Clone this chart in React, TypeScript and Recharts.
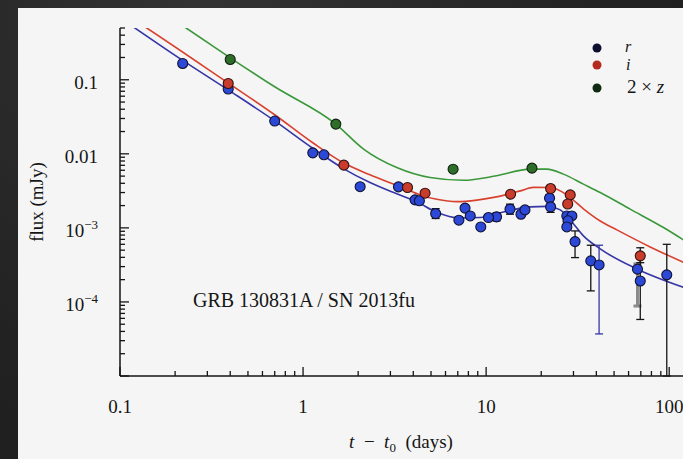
import React from 'react';
import { ComposedChart, XAxis, YAxis, Line, Scatter, ErrorBar } from 'recharts';

// ---------- axis ticks ----------
const xTicks = [0.1, 0.2, 0.3, 0.4, 0.5, 0.6, 0.7, 0.8, 0.9, 1, 2, 3, 4, 5, 6, 7, 8, 9, 10, 20, 30, 40, 50, 60, 70, 80, 90, 100];
const xMajor = [0.1, 1, 10, 100];
const xTickLabels = ['0.1', '1', '10', '100'];

const yTicks = [
  1e-5, 2e-5, 3e-5, 4e-5, 5e-5, 6e-5, 7e-5, 8e-5, 9e-5,
  1e-4, 2e-4, 3e-4, 4e-4, 5e-4, 6e-4, 7e-4, 8e-4, 9e-4,
  1e-3, 2e-3, 3e-3, 4e-3, 5e-3, 6e-3, 7e-3, 8e-3, 9e-3,
  0.01, 0.02, 0.03, 0.04, 0.05, 0.06, 0.07, 0.08, 0.09,
  0.1, 0.2, 0.3, 0.4, 0.5,
];
const yMajor = [1e-5, 1e-4, 1e-3, 0.01, 0.1];
const yTickLabels = ['', '10^−4', '10^−3', '0.01', '0.1'];

// ---------- r band (blue) ----------
const rPlain = [
  { t: 0.22, f: 0.166 }, { t: 0.39, f: 0.075 }, { t: 0.70, f: 0.0277 }, { t: 1.13, f: 0.0103 },
  { t: 1.30, f: 0.0097 }, { t: 2.05, f: 0.0036 }, { t: 3.32, f: 0.00358 }, { t: 4.09, f: 0.00239 },
  { t: 4.32, f: 0.00232 }, { t: 7.67, f: 0.00185 }, { t: 8.19, f: 0.00145 }, { t: 9.35, f: 0.00103 },
  { t: 10.3, f: 0.00138 }, { t: 15.5, f: 0.00153 }, { t: 16.3, f: 0.00175 }, { t: 27.6, f: 0.00145 },
  { t: 29.4, f: 0.00145 }, { t: 28.0, f: 0.00125 }, { t: 27.6, f: 0.00103 },
];
const rErrBlack = [
  { t: 5.3, f: 0.00156, err: [0.00022, 0.00026] },
  { t: 7.1, f: 0.00127, err: [0.00011, 0.00013] },
  { t: 11.4, f: 0.00141, err: [0.00017, 0.00019] },
  { t: 13.5, f: 0.00179, err: [0.00026, 0.0003] },
  { t: 22.2, f: 0.00252, err: [0.0002, 0.0003] },
  { t: 22.5, f: 0.00192, err: [0.0003, 0.0002] },
  { t: 30.6, f: 0.000653, err: [0.000256, 0.000257] },
  { t: 37.3, f: 0.000358, err: [0.000217, 0.000225] },
  { t: 69.5, f: 0.000192, err: [0.000134, 0.000258] },
  { t: 97, f: 0.000232, err: [0.000222, 0.000368] },
];
const rErrBlue = [{ t: 41.4, f: 0.000316, err: [0.000279, 0.000267] }];
const rErrGray = [{ t: 67.1, f: 0.000277, err: [0.000189, 0.00005] }];

// ---------- i band (red) ----------
const iPlain = [
  { t: 0.39, f: 0.089 }, { t: 1.67, f: 0.00703 }, { t: 3.72, f: 0.00351 }, { t: 4.64, f: 0.00294 },
  { t: 13.6, f: 0.00285 }, { t: 22.5, f: 0.0034 }, { t: 28.8, f: 0.00279 }, { t: 27.9, f: 0.0021 },
];
const iErr = [{ t: 69.5, f: 0.000419, err: [0.00008, 0.00012] }];

// ---------- 2 x z band (green) ----------
const zPoints = [
  { t: 0.40, f: 0.188 }, { t: 1.51, f: 0.0252 }, { t: 6.6, f: 0.0062 }, { t: 17.8, f: 0.00641 },
];

// ---------- model curves ----------
const rModel = [
  { t: 0.1, f: 0.688 }, { t: 0.221, f: 0.181 }, { t: 0.391, f: 0.0726 }, { t: 0.70, f: 0.0279 },
  { t: 1.13, f: 0.0119 }, { t: 1.67, f: 0.00627 }, { t: 2.32, f: 0.00409 }, { t: 3.25, f: 0.00288 },
  { t: 4.18, f: 0.00225 }, { t: 5.33, f: 0.00164 }, { t: 7.11, f: 0.00136 }, { t: 9.27, f: 0.00138 },
  { t: 12.4, f: 0.00164 }, { t: 17.4, f: 0.00192 }, { t: 21.5, f: 0.00195 }, { t: 25.4, f: 0.00175 },
  { t: 28.8, f: 0.00128 }, { t: 34.0, f: 0.00078 }, { t: 42.0, f: 0.00052 }, { t: 66.6, f: 0.000279 },
  { t: 122, f: 0.000155 },
];
const iModel = [
  { t: 0.1, f: 0.86 }, { t: 0.14, f: 0.5 }, { t: 0.391, f: 0.09 }, { t: 0.70, f: 0.0337 },
  { t: 1.13, f: 0.0141 }, { t: 1.67, f: 0.0075 }, { t: 2.32, f: 0.0052 }, { t: 3.53, f: 0.00347 },
  { t: 4.35, f: 0.00279 }, { t: 5.38, f: 0.00243 }, { t: 6.92, f: 0.00226 }, { t: 8.9, f: 0.00237 },
  { t: 11.4, f: 0.00262 }, { t: 15.4, f: 0.00316 }, { t: 18.1, f: 0.00352 }, { t: 22.5, f: 0.00351 },
  { t: 25.4, f: 0.00316 }, { t: 28.8, f: 0.00257 }, { t: 34.0, f: 0.00181 }, { t: 42.0, f: 0.00124 },
  { t: 51.8, f: 0.00094 }, { t: 78.7, f: 0.000553 }, { t: 122, f: 0.000336 },
];
const zModel = [
  { t: 0.1, f: 1.86 }, { t: 0.2296, f: 0.5 }, { t: 0.40, f: 0.198 }, { t: 0.70, f: 0.0804 },
  { t: 1.51, f: 0.0252 }, { t: 2.14, f: 0.0116 }, { t: 3.25, f: 0.00653 }, { t: 4.94, f: 0.00479 },
  { t: 7.52, f: 0.00439 }, { t: 11.4, f: 0.00505 }, { t: 17.4, f: 0.00621 }, { t: 21.5, f: 0.00621 },
  { t: 26.4, f: 0.00532 }, { t: 34.0, f: 0.0039 }, { t: 42.0, f: 0.003 }, { t: 61.2, f: 0.00179 },
  { t: 93.1, f: 0.00101 }, { t: 122, f: 0.000667 },
];

// ---------- styles ----------
const FONT = '"Liberation Serif", "Times New Roman", serif';
const INK = '#151515';
const BLUE_FILL = '#2b49d6';
const RED_FILL = '#c93c2c';
const GREEN_FILL = '#2f6d2b';
const BLUE_LINE = '#3636a6';
const RED_LINE = '#d9412f';
const GREEN_LINE = '#3a983a';

const isIn = (arr: number[], v: number) => arr.some((a) => Math.abs(a - v) / a < 1e-6);

const XTickBottom = (props: any) => {
  const { x, y, payload } = props;
  const v = payload.value;
  const major = isIn(xMajor, v);
  const idx = xMajor.findIndex((a) => Math.abs(a - v) / a < 1e-6);
  return (
    <g>
      <line x1={x} x2={x} y1={y} y2={y - (major ? 9 : 5)} stroke={INK} strokeWidth={1.3} />
      {major && (
        <text x={x} y={y + 37} textAnchor="middle" fontFamily={FONT} fontSize={19} fill={INK}>
          {xTickLabels[idx]}
        </text>
      )}
    </g>
  );
};

const XTickTop = (props: any) => {
  const { x, y, payload } = props;
  const major = isIn(xMajor, payload.value);
  return <line x1={x} x2={x} y1={y} y2={y + (major ? 9 : 5)} stroke={INK} strokeWidth={1.3} />;
};

const YTickLeft = (props: any) => {
  const { x, y, payload } = props;
  const v = payload.value;
  const major = isIn(yMajor, v);
  const idx = yMajor.findIndex((a) => Math.abs(a - v) / a < 1e-6);
  const label = idx >= 0 ? yTickLabels[idx] : '';
  let content: any = null;
  if (label) {
    if (label.includes('^')) {
      const [base, exp] = label.split('^');
      content = (
        <text x={x - 22} y={y + 9} textAnchor="end" fontFamily={FONT} fontSize={19} fill={INK}>
          {base}
          <tspan dy={-8} fontSize={13}>{exp}</tspan>
        </text>
      );
    } else {
      content = (
        <text x={x - 22} y={y + 9} textAnchor="end" fontFamily={FONT} fontSize={19} fill={INK}>
          {label}
        </text>
      );
    }
  }
  return (
    <g>
      <line x1={x} x2={x + (major ? 9 : 5)} y1={y} y2={y} stroke={INK} strokeWidth={1.3} />
      {content}
    </g>
  );
};

const YTickRight = (props: any) => {
  const { x, y, payload } = props;
  const major = isIn(yMajor, payload.value);
  return <line x1={x} x2={x - (major ? 9 : 5)} y1={y} y2={y} stroke={INK} strokeWidth={1.3} />;
};

const dot = (fill: string, stroke: string) => (p: any) => (
  <circle cx={p.cx} cy={p.cy} r={5} fill={fill} stroke={stroke} strokeWidth={1.1} />
);

export default function App() {
  return (
    <div
      style={{
        position: 'fixed', left: 0, top: 0, width: 683, height: 459, overflow: 'hidden',
        background: 'radial-gradient(ellipse at 30% 0%, #333 0%, #222 60%, #1c1c1c 100%)',
      }}
    >
      <div style={{ position: 'absolute', left: 18, top: 8, right: 0, bottom: 0, background: '#f5f5f5' }} />
      <div style={{ position: 'absolute', left: 0, top: 0 }}>
        <ComposedChart width={700} height={459} margin={{ top: 28, right: 15, bottom: 0, left: 0 }}>
          <XAxis
            xAxisId="b" type="number" dataKey="t" scale="log" domain={[0.1, 122]} allowDataOverflow
            ticks={xTicks} interval={0} tick={<XTickBottom />} tickLine={false} tickSize={0} tickMargin={0}
            axisLine={{ stroke: INK, strokeWidth: 1.5 }} height={83}
          />
          <XAxis
            xAxisId="top" orientation="top" type="number" dataKey="t" scale="log" domain={[0.1, 122]} allowDataOverflow
            ticks={xTicks} interval={0} tick={<XTickTop />} tickLine={false} tickSize={0} tickMargin={0}
            axisLine={{ stroke: INK, strokeWidth: 1.5 }} height={0}
          />
          <YAxis
            yAxisId="l" type="number" dataKey="f" scale="log" domain={[1e-5, 0.5]} allowDataOverflow
            ticks={yTicks} interval={0} tick={<YTickLeft />} tickLine={false} tickSize={0} tickMargin={0}
            axisLine={{ stroke: INK, strokeWidth: 1.5 }} width={120}
          />
          <YAxis
            yAxisId="rt" orientation="right" type="number" dataKey="f" scale="log" domain={[1e-5, 0.5]} allowDataOverflow
            ticks={yTicks} interval={0} tick={<YTickRight />} tickLine={false} tickSize={0} tickMargin={0}
            axisLine={{ stroke: INK, strokeWidth: 1.5 }} width={0}
          />

          <Line xAxisId="b" yAxisId="l" data={zModel} dataKey="f" type="monotone" stroke={GREEN_LINE} strokeWidth={1.6} dot={false} isAnimationActive={false} />
          <Line xAxisId="b" yAxisId="l" data={iModel} dataKey="f" type="monotone" stroke={RED_LINE} strokeWidth={1.6} dot={false} isAnimationActive={false} />
          <Line xAxisId="b" yAxisId="l" data={rModel} dataKey="f" type="monotone" stroke={BLUE_LINE} strokeWidth={1.6} dot={false} isAnimationActive={false} />

          <Scatter xAxisId="b" yAxisId="l" data={rErrGray} dataKey="f" shape={dot(BLUE_FILL, '#111133')} isAnimationActive={false}>
            <ErrorBar dataKey="err" direction="y" width={4} stroke="#8a8a8a" strokeWidth={3} />
          </Scatter>
          <Scatter xAxisId="b" yAxisId="l" data={rErrBlack} dataKey="f" shape={dot(BLUE_FILL, '#111133')} isAnimationActive={false}>
            <ErrorBar dataKey="err" direction="y" width={4} stroke={INK} strokeWidth={1.3} />
          </Scatter>
          <Scatter xAxisId="b" yAxisId="l" data={rErrBlue} dataKey="f" shape={dot(BLUE_FILL, '#111133')} isAnimationActive={false}>
            <ErrorBar dataKey="err" direction="y" width={4} stroke={BLUE_LINE} strokeWidth={1.3} />
          </Scatter>
          <Scatter xAxisId="b" yAxisId="l" data={iErr} dataKey="f" shape={dot(RED_FILL, '#331111')} isAnimationActive={false}>
            <ErrorBar dataKey="err" direction="y" width={4} stroke={INK} strokeWidth={1.3} />
          </Scatter>
          <Scatter xAxisId="b" yAxisId="l" data={rPlain} dataKey="f" shape={dot(BLUE_FILL, '#111133')} isAnimationActive={false} />
          <Scatter xAxisId="b" yAxisId="l" data={iPlain} dataKey="f" shape={dot(RED_FILL, '#331111')} isAnimationActive={false} />
          <Scatter xAxisId="b" yAxisId="l" data={zPoints} dataKey="f" shape={dot(GREEN_FILL, '#0d220d')} isAnimationActive={false} />
        </ComposedChart>
      </div>
      <svg width={683} height={459} style={{ position: 'absolute', left: 0, top: 0, pointerEvents: 'none' }}>
        <g fontFamily={FONT} fill={INK}>
          <text transform="translate(36,202) rotate(-90)" textAnchor="middle" dominantBaseline="central" fontSize={19}>
            flux (mJy)
          </text>
          <text x={401} y={448} textAnchor="middle" fontSize={19}>
            <tspan fontStyle="italic">t</tspan>
            {'\u2002\u2212\u2002'}
            <tspan fontStyle="italic">t</tspan>
            <tspan fontSize={13} dy={4}>0</tspan>
            <tspan dy={-4}>{'\u2002(days)'}</tspan>
          </text>
          <text x={193} y={307} fontSize={20} textLength={222} lengthAdjust="spacing">GRB 130831A / SN 2013fu</text>

          <circle cx={597} cy={48} r={4.5} fill="#0e0e30" />
          <circle cx={597} cy={65} r={4.5} fill="#b52a1e" />
          <circle cx={597} cy={88} r={4.5} fill="#0f2a10" />
          <text x={625} y={52} fontSize={16} fontStyle="italic">r</text>
          <text x={626} y={70} fontSize={16} fontStyle="italic">i</text>
          <text x={627} y={93} fontSize={19}>
            2 × <tspan fontStyle="italic">z</tspan>
          </text>
        </g>
      </svg>
    </div>
  );
}
